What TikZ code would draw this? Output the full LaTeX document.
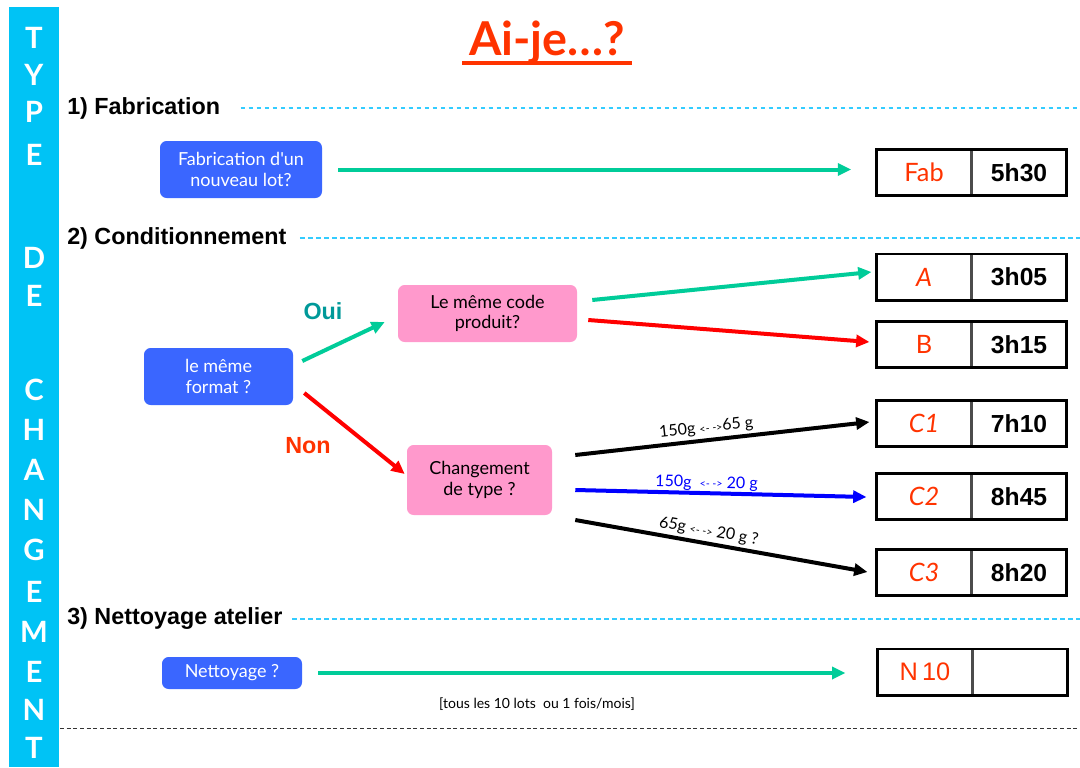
\documentclass[tikz,border=0pt]{standalone}
\usepackage{fontspec}
\setmainfont{Liberation Sans}
\newfontfamily\comic{Lato}
\usetikzlibrary{arrows.meta,calc}
\definecolor{barblue}{HTML}{00C3F5}
\definecolor{boxblue}{HTML}{3A66FF}
\definecolor{boxpink}{HTML}{FF99CC}
\definecolor{agreen}{HTML}{00CC99}
\definecolor{ared}{HTML}{FF3300}
\definecolor{lred}{HTML}{FF0000}
\definecolor{oui}{HTML}{009999}
\definecolor{dashcyan}{HTML}{33CCFF}
\definecolor{lblue}{HTML}{0000FF}
\begin{document}
\begin{tikzpicture}[x=0.75pt,y=-0.75pt,
  bluebox/.style={fill=boxblue, rounded corners=5pt, text=white, align=center,
    font=\comic\fontsize{13.5}{15.5}\selectfont, inner sep=0pt},
  pinkbox/.style={fill=boxpink, rounded corners=5pt, text=black, align=center,
    font=\comic\fontsize{13.5}{15.5}\selectfont, inner sep=0pt},
  cellL/.style={draw=black!70, line width=0.8pt, minimum width=70.5pt, minimum height=33.75pt,
    inner sep=0pt, text=ared, font=\comic\fontsize{19}{21}\selectfont},
  cellR/.style={draw=black!70, line width=0.8pt, minimum width=70.5pt, minimum height=33.75pt,
    inner sep=0pt, font=\bfseries\fontsize{18.5}{20}\selectfont},
  outer/.style={draw=black, line width=2.2pt},
  arr/.style={line width=3pt, -{Triangle[length=10pt,width=9pt]}},
  heading/.style={anchor=west, font=\bfseries\fontsize{17.5}{20}\selectfont, inner sep=0pt},
  cyandash/.style={draw=dashcyan, line width=0.8pt, dash pattern=on 3.5pt off 2.5pt},
  barletter/.style={text=white, font=\comic\bfseries\fontsize{22}{24}\selectfont, inner sep=0pt},
  alabel/.style={font=\comic\fontsize{12}{14}\selectfont, sloped, above, inner sep=2pt},
]
\useasboundingbox (0,0) rectangle (1080,767);
% left bar
\fill[barblue] (9,7) rectangle (59,767);
\foreach \l/\y [count=\i] in {T/38,Y/75,P/112,E/155,D/258,E/296,C/390,H/430,A/470,N/510,G/550,E/592,M/632,E/672,N/710,T/748}
  \node[barletter] (bar\i) at (34,\y) {\l};

% title
\node[text=ared, font=\comic\bfseries\fontsize{35}{38}\selectfont, inner sep=0pt] (title) at (547,42) {Ai-je\ldots?};
\coordinate (ulL) at (462,63);
\coordinate (ulR) at (632,63);
\draw[ared, line width=2.5pt] (ulL) -- (ulR);

% headings
\node[heading] (h1) at (67,108) {1) Fabrication};
\node[heading] (h2) at (67,238) {2) Conditionnement};
\node[heading] (h3) at (67,619) {3) Nettoyage atelier};
\coordinate (h1e) at (1080,108);
\coordinate (h2e) at (1080,238);
\coordinate (h3e) at (1080,619);
\draw[cyandash, shorten <=15pt] (h1.east) -- (h1e);
\draw[cyandash, shorten <=10pt] (h2.east) -- (h2e);
\draw[cyandash, shorten <=7pt] (h3.east) -- (h3e);

% boxes
\node[bluebox, minimum width=121.5pt, minimum height=42.75pt] (fab) at (241,169.5) {Fabrication d'un\\nouveau lot?};
\node[bluebox, minimum width=111.75pt, minimum height=42.75pt] (fmt) at (218.5,376.5) {le même\\format ?};
\node[bluebox, minimum width=105pt, minimum height=24pt] (net) at (232,673) {Nettoyage ?};
\node[pinkbox, minimum width=134.25pt, minimum height=42.75pt] (code) at (487.5,313.5) {Le même code\\produit?};
\node[pinkbox, minimum width=108.75pt, minimum height=52.5pt] (type) at (479.5,480) {Changement\\de type ?};

% result cells
\node[cellL] (fabL) at (924,172.5) {Fab};
\node[cellR, anchor=west] (fabR) at (fabL.east) {5h30};
\node[cellL] (aL) at (924,277) {\itshape A};
\node[cellR, anchor=west] (aR) at (aL.east) {3h05};
\node[cellL] (bL) at (924,344.5) {B};
\node[cellR, anchor=west] (bR) at (bL.east) {3h15};
\node[cellL] (c1L) at (924,423.5) {\itshape C1};
\node[cellR, anchor=west] (c1R) at (c1L.east) {7h10};
\node[cellL] (c2L) at (924,496.5) {\itshape C2};
\node[cellR, anchor=west] (c2R) at (c2L.east) {8h45};
\node[cellL] (c3L) at (924,572.5) {\itshape C3};
\node[cellR, anchor=west] (c3R) at (c3L.east) {8h20};
\node[cellL, font=\fontsize{19}{21}\selectfont] (nL) at (925,672) {N\,10};
\node[cellR, anchor=west] (nR) at (nL.east) {};
\foreach \n in {fab,a,b,c1,c2,c3,n}
  \draw[outer] (\n L.north west) rectangle (\n R.south east);

% arrows
\draw[arr, agreen, shorten <=12pt, shorten >=19pt] (fab.east) -- (fab.east -| fabL.west);
\draw[arr, agreen] ($(fmt.east)+(9,-15.5)$) -- ($(code.west)+(-13,8.5)$);
\draw[arr, lred] ($(fmt.east)+(11,16.5)$) -- ($(type.west)+(-2,-6)$);
\node[text=oui, font=\bfseries\fontsize{17.5}{20}\selectfont] (oui) at (323,311) {Oui};
\node[text=ared, font=\bfseries\fontsize{17.5}{20}\selectfont] (non) at (308,446) {Non};

\draw[arr, agreen] ($(code.east)+(15,-13.5)$) -- ($(aL.west)+(-5,-5)$);
\draw[arr, lred] ($(code.east)+(11,6.5)$) -- ($(bL.west)+(-7,-2.5)$);

\draw[arr, black] ($(type.east)+(23,-25)$) -- node[alabel, pos=0.45] {150g {\footnotesize <- ->}65 g} ($(c1L.west)+(-7,-1.5)$);
\draw[arr, lblue] ($(type.east)+(23,10)$) -- node[alabel, pos=0.45, text=lblue, inner sep=0.5pt] {150g\ \ {\footnotesize <- ->} 20 g} ($(c2L.west)+(-10,0.5)$);
\draw[arr, black] ($(type.east)+(23,40)$) -- node[alabel, pos=0.45] {65g {\footnotesize <- ->} 20 g ?} ($(c3L.west)+(-9,-0.5)$);

\draw[arr, agreen, shorten <=12pt, shorten >=24pt] (net.east) -- (net.east -| nL.west);
\node[font=\comic\fontsize{10.5}{12}\selectfont] (note) at (537,704) {[tous les 10 lots\ \ ou 1 fois/mois]};

% bottom dashed line
\coordinate (dl) at (60,728);
\coordinate (dr) at (1080,728);
\draw[black!80, line width=0.7pt, dash pattern=on 3pt off 2pt] (dl) -- (dr);
\end{tikzpicture}
\end{document}
